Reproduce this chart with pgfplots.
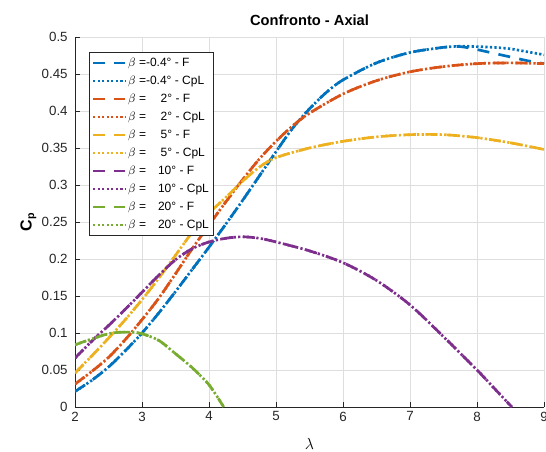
\documentclass[border=0pt]{standalone}
\usepackage{fontspec}
\setmainfont{Liberation Sans}
\usepackage{pgfplots}
\pgfplotsset{compat=1.18}
\usepackage{pgfplotstable}
\usetikzlibrary{calc}
\definecolor{mblue}{rgb}{0,0.447,0.741}
\definecolor{morange}{rgb}{0.85,0.325,0.098}
\definecolor{myellow}{rgb}{0.929,0.694,0.125}
\definecolor{mpurple}{rgb}{0.494,0.184,0.556}
\definecolor{mgreen}{rgb}{0.466,0.674,0.188}
\definecolor{axgray}{rgb}{0.15,0.15,0.15}

\pgfplotstableread{
x F C
2 0.021 0.021
2.25 0.036 0.036
2.5 0.054 0.054
2.75 0.076 0.076
3 0.100 0.100
3.25 0.127 0.127
3.5 0.156 0.156
3.75 0.186 0.186
4 0.216 0.216
4.25 0.247 0.247
4.5 0.279 0.279
4.75 0.312 0.312
5 0.345 0.345
5.25 0.377 0.377
5.5 0.403 0.403
5.75 0.425 0.425
6 0.442 0.442
6.5 0.465 0.465
7 0.479 0.479
7.5 0.486 0.486
7.75 0.487 0.4875
8 0.483 0.487
8.25 0.478 0.486
8.5 0.473 0.484
8.75 0.468 0.480
9 0.464 0.476
}\tblA

\pgfplotstableread{
x F C
2 0.031 0.031
2.25 0.048 0.048
2.5 0.067 0.067
2.75 0.091 0.091
3 0.118 0.118
3.25 0.147 0.147
3.5 0.180 0.180
3.75 0.214 0.214
4 0.246 0.246
4.25 0.277 0.277
4.5 0.307 0.307
4.75 0.335 0.335
5 0.359 0.359
5.25 0.380 0.380
5.5 0.397 0.397
6 0.423 0.423
6.5 0.441 0.441
7 0.453 0.453
7.5 0.460 0.460
8 0.464 0.464
8.5 0.465 0.465
9 0.464 0.464
}\tblB

\pgfplotstableread{
x F C
2 0.046 0.046
2.25 0.069 0.069
2.5 0.093 0.093
2.75 0.118 0.118
3 0.145 0.145
3.25 0.174 0.174
3.5 0.205 0.205
3.75 0.236 0.236
4 0.262 0.262
4.25 0.283 0.283
4.5 0.305 0.305
4.75 0.324 0.324
5 0.337 0.337
5.5 0.350 0.350
6 0.359 0.359
6.5 0.365 0.365
7 0.368 0.368
7.5 0.368 0.368
8 0.364 0.364
8.5 0.357 0.357
9 0.348 0.348
}\tblC

\pgfplotstableread{
x F C
2 0.066 0.066
2.25 0.089 0.089
2.5 0.110 0.110
2.75 0.132 0.132
3 0.155 0.155
3.25 0.178 0.178
3.5 0.199 0.199
3.75 0.214 0.214
4 0.223 0.223
4.25 0.228 0.228
4.5 0.230 0.230
4.75 0.228 0.228
5 0.223 0.223
5.5 0.211 0.211
6 0.195 0.195
6.5 0.171 0.171
7 0.138 0.138
7.5 0.095 0.095
8 0.050 0.050
8.25 0.026 0.026
8.52 0.000 0.000
}\tblD

\pgfplotstableread{
x F C
2 0.084 0.084
2.25 0.092 0.092
2.5 0.099 0.099
2.67 0.101 0.101
2.85 0.101 0.101
3 0.099 0.099
3.25 0.090 0.090
3.5 0.072 0.072
3.75 0.053 0.053
4 0.030 0.030
4.22 0.000 0.000
}\tblE

\begin{document}
\begin{tikzpicture}
\begin{axis}[
  width=351.75pt, height=277.5pt, scale only axis,
  xmin=2, xmax=9, ymin=0, ymax=0.5,
  xtick={2,3,4,5,6,7,8,9},
  ytick={0,0.05,0.1,0.15,0.2,0.25,0.3,0.35,0.4,0.45,0.5},
  scaled y ticks=false,
  yticklabel style={/pgf/number format/fixed, /pgf/number format/precision=2, xshift=-2pt},
  /pgf/number format/assume math mode=true,
  tick label style={font=\fontsize{10}{12}\selectfont, color=axgray},
  grid=major, major grid style={color=black!13, line width=0.5pt},
  axis x line*=bottom, axis y line*=left,
  axis line style={-, color=axgray, line width=0.5pt},
  tick align=inside, major tick length=4pt, tick style={color=axgray, line width=0.5pt},
  title={\textbf{Confronto - Axial}},
  title style={font=\fontsize{11}{13}\selectfont, at={(axis description cs:0.5,1)}, anchor=base, yshift=2.5pt},
  ylabel={\textbf{C\textsubscript{p}}},
  ylabel style={font=\fontsize{12}{14}\selectfont, at={(axis description cs:-0.0995,0.5)}, anchor=center},
  xlabel={$\lambda$},
  xlabel style={font=\fontsize{12}{14}\selectfont, at={(axis description cs:0.5,-0.1)}, anchor=center},
  legend cell align=left,
  legend style={at={(axis description cs:0.02985,0.9595)}, anchor=north west,
    draw=axgray, fill=white, line width=0.5pt, font=\fontsize{9}{11}\selectfont,
    nodes={inner sep=1.5pt, text height=7pt, text depth=2pt},
    row sep=1.5pt, inner xsep=2pt, inner ysep=2pt},
  legend image code/.code={\draw[#1, line width=1.6pt] (0pt,0pt) -- (24pt,0pt);},
  Fst/.style={line width=2pt, dash pattern=on 9pt off 7pt},
  Cst/.style={line width=2pt, dash pattern=on 1.7pt off 1.7pt},
]
\addplot[color=mblue, Fst, smooth] table[x=x, y=F] {\tblA};
\addlegendentry{$\beta$ =-0.4° - F}
\addplot[color=mblue, Cst, smooth] table[x=x, y=C] {\tblA};
\addlegendentry{$\beta$ =-0.4° - CpL}
\addplot[color=morange, Fst, smooth] table[x=x, y=F] {\tblB};
\addlegendentry{$\beta$ =\hspace{11pt}2° - F}
\addplot[color=morange, Cst, smooth] table[x=x, y=C] {\tblB};
\addlegendentry{$\beta$ =\hspace{11pt}2° - CpL}
\addplot[color=myellow, Fst, smooth] table[x=x, y=F] {\tblC};
\addlegendentry{$\beta$ =\hspace{11pt}5° - F}
\addplot[color=myellow, Cst, smooth] table[x=x, y=C] {\tblC};
\addlegendentry{$\beta$ =\hspace{11pt}5° - CpL}
\addplot[color=mpurple, Fst, smooth] table[x=x, y=F] {\tblD};
\addlegendentry{$\beta$ =\hspace{9pt}10° - F}
\addplot[color=mpurple, Cst, smooth] table[x=x, y=C] {\tblD};
\addlegendentry{$\beta$ =\hspace{9pt}10° - CpL}
\addplot[color=mgreen, Fst, smooth] table[x=x, y=F] {\tblE};
\addlegendentry{$\beta$ =\hspace{9pt}20° - F}
\addplot[color=mgreen, Cst, smooth] table[x=x, y=C] {\tblE};
\addlegendentry{$\beta$ =\hspace{9pt}20° - CpL}
\end{axis}
\pgfresetboundingbox
\path[use as bounding box] ($(current axis.south west)+(-56.25pt,-33pt)$) rectangle ($(current axis.north east)+(1.5pt,27.75pt)$);
\end{tikzpicture}
\end{document}
